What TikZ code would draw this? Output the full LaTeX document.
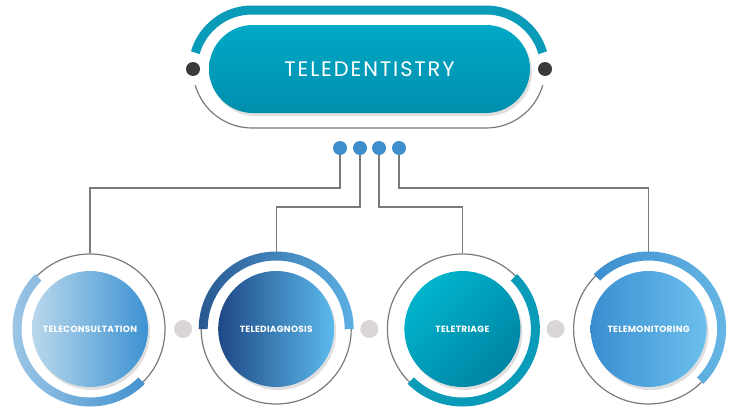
\documentclass[tikz,border=0pt]{standalone}
\usepackage{fontspec}
\setmainfont{Poppins}
\usetikzlibrary{shadows, positioning}
\definecolor{pillTop}{HTML}{00A9C6}
\definecolor{pillBot}{HTML}{008FAD}
\definecolor{bandTeal}{HTML}{0A9BB8}
\definecolor{wiregray}{HTML}{7A7A7A}
\definecolor{knobgray}{HTML}{3A3A3A}
\definecolor{hubblue}{HTML}{3D8ECB}
\definecolor{dotgray}{HTML}{DAD6D8}
\tikzset{
  pill/.style = {rectangle, rounded corners=44pt, minimum width=321pt, minimum height=88pt,
    top color=pillTop, bottom color=pillBot, text=white,
    font=\fontsize{21}{22}\selectfont\addfontfeatures{LetterSpace=9},
    drop shadow={opacity=0.25, shadow xshift=2pt, shadow yshift=-3pt}},
  ring/.style = {circle, draw=wiregray, line width=1.2pt, minimum size=150pt, inner sep=0pt},
  disc/.style = {circle, minimum size=116pt, inner sep=0pt, text=white,
    font=\bfseries\fontsize{9}{10}\selectfont\addfontfeatures{LetterSpace=3},
    drop shadow={opacity=0.25, shadow xshift=2pt, shadow yshift=-3pt}},
  hub/.style = {circle, fill=hubblue, minimum size=14pt, inner sep=0pt},
  knob/.style = {circle, fill=knobgray, minimum size=14pt, inner sep=0pt},
  spacer/.style = {circle, fill=dotgray, minimum size=18pt, inner sep=0pt},
  wire/.style = {draw=wiregray, line width=1.2pt},
}

\begin{document}
\begin{tikzpicture}[x=1pt, y=1pt]
\useasboundingbox (0,0) rectangle (738,-415);
% frame round the title
\draw [bandTeal, line width=9pt] (252,-69) ++(164:59) arc (164:90:59) -- (486,-10) arc (90:16:59);
\draw [wiregray, line width=1.2pt] (252,-69) ++(196:59) arc (196:270:59) -- (486,-128) arc (270:344:59);
\node [knob] (kl) at (193,-69) {};
\node [knob] (kr) at (545,-69) {};
\node [pill] (tele) at (369.5,-69) {TELEDENTISTRY};

% rings
\node [ring] (r1) at (90,-329) {};
\node [ring, right=35pt of r1] (r2) {};
\node [ring, right=35pt of r2] (r3) {};
\node [ring, right=35pt of r3] (r4) {};
\path (r1) -- node [spacer] (s1) {} (r2);
\path (r2) -- node [spacer] (s2) {} (r3);
\path (r3) -- node [spacer] (s3) {} (r4);

% wires
\draw [wire] (340,-148) -- ++(0,-40) -| (r1.north);
\draw [wire] (360,-148) -- ++(0,-59) -| (r2.north);
\draw [wire] (379,-148) -- ++(0,-59) -| (r3.north);
\draw [wire] (399,-148) -- ++(0,-40) -| (r4.north);
\node [hub] (h1) at (340,-148) {};
\node [hub] (h2) at (360,-148) {};
\node [hub] (h3) at (379,-148) {};
\node [hub] (h4) at (399,-148) {};

% bands
\shade [left color={rgb,255:red,160;green,200;blue,230}, right color={rgb,255:red,66;green,146;blue,208}]
  ([shift={(135:77.5)}]r1.center) arc (135:315:77.5) -- ([shift={(315:68.5)}]r1.center) arc (315:135:68.5) -- cycle;
\shade [left color={rgb,255:red,40;green,88;blue,146}, right color={rgb,255:red,92;green,176;blue,228}]
  ([shift={(0:77.5)}]r2.center) arc (0:180:77.5) -- ([shift={(180:68.5)}]r2.center) arc (180:0:68.5) -- cycle;
\fill [bandTeal]
  ([shift={(-135:77.5)}]r3.center) arc (-135:45:77.5) -- ([shift={(45:68.5)}]r3.center) arc (45:-135:68.5) -- cycle;
\shade [left color={rgb,255:red,60;green,142;blue,207}, right color={rgb,255:red,104;green,184;blue,230}]
  ([shift={(-45:77.5)}]r4.center) arc (-45:135:77.5) -- ([shift={(135:68.5)}]r4.center) arc (135:-45:68.5) -- cycle;

% discs
\node [disc, left color={rgb,255:red,186;green,216;blue,236}, right color={rgb,255:red,60;green,146;blue,210}] (c1) at (r1) {TELECONSULTATION};
\node [disc, left color={rgb,255:red,30;green,72;blue,134}, right color={rgb,255:red,92;green,186;blue,236}] (c2) at (r2) {TELEDIAGNOSIS};
\node [disc, left color={rgb,255:red,0;green,180;blue,204}, right color={rgb,255:red,0;green,132;blue,164}, shading angle=45] (c3) at (r3) {TELETRIAGE};
\node [disc, left color={rgb,255:red,58;green,142;blue,208}, right color={rgb,255:red,108;green,192;blue,238}] (c4) at (r4) {TELEMONITORING};
\end{tikzpicture}
\end{document}
